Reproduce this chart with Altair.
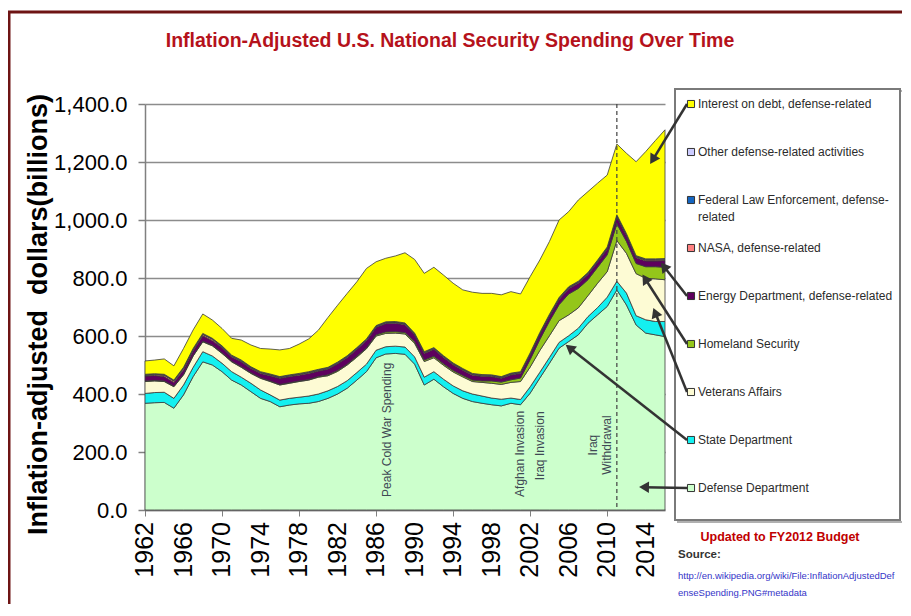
import math
import altair as alt
import pandas as pd

# ---------------- data (billions, inflation adjusted) ----------------
years = list(range(1962, 2017))
label_years = list(range(1962, 2015, 4))

defense_dept = [368, 370, 371, 351, 397, 460, 511, 500, 477, 448,
                431, 408, 385, 374, 356, 362, 366, 368, 374, 385,
                400, 420, 448, 477, 525, 538, 540, 537, 503, 431,
                451, 425, 402, 385, 374, 368, 363, 359, 368, 363,
                403, 455, 506, 558, 581, 604, 644, 673, 702, 759,
                707, 638, 610, 604, 598]
state_dept = [34, 35, 35, 34, 34, 32, 35, 31, 29, 29,
              27, 29, 29, 23, 23, 23, 23, 25, 26, 26,
              26, 26, 26, 26, 26, 25, 25, 25, 25, 27,
              26, 26, 26, 26, 26, 25, 23, 23, 18, 18,
              22, 20, 20, 20, 20, 23, 23, 25, 32, 30,
              41, 32, 46, 46, 52]
veterans = [41, 40, 37, 40, 35, 39, 34, 35, 34, 34,
            34, 34, 40, 46, 52, 52, 54, 55, 58, 52,
            52, 54, 53, 53, 49, 46, 45, 45, 47, 54,
            48, 48, 48, 48, 43, 47, 51, 51, 54, 62,
            68, 75, 75, 75, 72, 70, 72, 84, 88, 140,
            137, 145, 143, 147, 144]
homeland = [2, 2, 2, 2, 2, 2, 2, 2, 2, 2,
            2, 2, 2, 2, 2, 2, 2, 2, 2, 3,
            3, 3, 3, 3, 4, 5, 5, 5, 5, 5,
            5, 5, 5, 5, 5, 5, 8, 8, 9, 12,
            26, 38, 50, 55, 72, 67, 55, 55, 58, 58,
            41, 35, 40, 42, 43]
energy = [17, 17, 15, 13, 16, 16, 19, 16, 18, 15,
          17, 15, 15, 18, 21, 21, 20, 21, 19, 20,
          23, 23, 24, 25, 26, 29, 29, 27, 24, 23,
          24, 22, 20, 18, 17, 16, 15, 13, 17, 16,
          16, 17, 17, 18, 18, 18, 18, 18, 20, 24,
          20, 20, 20, 20, 23]
nasa = [3, 3, 5, 5, 5, 5, 5, 5, 3, 3,
        3, 3, 3, 3, 3, 3, 3, 3, 3, 3,
        3, 3, 3, 3, 3, 3, 3, 3, 3, 3,
        3, 3, 3, 3, 3, 3, 3, 3, 3, 3,
        3, 3, 3, 3, 3, 3, 3, 3, 3, 3,
        3, 3, 3, 3, 3]
fed_law = [1, 1, 1, 1, 1, 1, 1, 1, 1, 1,
           1, 1, 1, 1, 1, 1, 1, 1, 1, 1,
           1, 1, 1, 1, 1, 1, 1, 1, 1, 1,
           1, 1, 1, 1, 1, 1, 1, 1, 1, 1,
           2, 2, 2, 2, 2, 2, 2, 2, 2, 2,
           2, 2, 2, 2, 2]
other_defense = [2, 2, 2, 2, 2, 2, 2, 2, 2, 2,
                 2, 2, 2, 2, 2, 2, 2, 2, 2, 2,
                 2, 2, 2, 2, 2, 2, 2, 2, 2, 2,
                 2, 2, 2, 2, 2, 2, 2, 2, 2, 2,
                 2, 2, 2, 2, 2, 2, 2, 2, 2, 2,
                 2, 2, 2, 2, 2]
interest = [46, 47, 53, 49, 65, 64, 67, 63, 60, 58,
            69, 75, 80, 86, 92, 91, 101, 113, 135, 172,
            196, 215, 227, 243, 220, 219, 226, 242, 254, 270,
            277, 278, 275, 271, 280, 280, 281, 282, 281, 268,
            263, 250, 251, 267, 259, 280, 279, 265, 248, 244,
            277, 324, 370, 408, 444]

# stack order: bottom to top
series_names = ["Defense Department", "State Department", "Veterans Affairs",
                "Homeland Security", "Energy Department, defense-related",
                "NASA, defense-related", "Federal Law Enforcement, defense-related",
                "Other defense-related activities", "Interest on debt, defense-related"]
series_values = [defense_dept, state_dept, veterans, homeland, energy,
                 nasa, fed_law, other_defense, interest]
colors = ["#ccffcc", "#14f0f0", "#fdfbd4", "#94c61a", "#5e005e",
          "#ff8080", "#1565c0", "#ccccff", "#ffff00"]

# legend (top to bottom)
legend_series = series_names[::-1]
legend_labels = ["Interest on debt, defense-related", "Other defense-related activities",
                 "Federal Law Enforcement, defense-", "NASA, defense-related",
                 "Energy Department, defense-related", "Homeland Security",
                 "Veterans Affairs", "State Department", "Defense Department"]

# annotations
annotation_texts = ["Peak Cold War Spending", "Afghan Invasion", "Iraq Invasion"]
annotation_years = [1987.1, 2000.9, 2003.0]
annotation_values = [45, 45, 103]
withdrawal_texts = ["Iraq", "Withdrawal"]
withdrawal_years = [2008.5, 2010.0]
withdrawal_values = [224, 224]
withdrawal_line_year = [2011]

# arrows: legend row -> point on area (year, value)
arrow_rows = [0, 4, 5, 6, 7, 8]
arrow_tip_years = [2014.4, 2015.5, 2013.6, 2014.75, 2005.6, 2013.2]
arrow_tip_values = [1190, 856, 815, 700, 572, 79]

# ---------------- layout helpers ----------------
W, H = 520, 406
X0, X1 = 1962, 2016
Y0, Y1 = 0, 1400
ROW = 48


def year_px(y):
    return (y - X0) * W / (X1 - X0)


def val_px(v):
    return (Y1 - v) * H / (Y1 - Y0)


def px_year(px):
    return X0 + px * (X1 - X0) / W


def px_val(py):
    return Y1 - py * (Y1 - Y0) / H


FONT = "Liberation Sans"

rows = []
for k, (name, vals) in enumerate(zip(series_names, series_values)):
    for yr, v in zip(years, vals):
        rows.append({"year": yr, "value": v, "series": name, "order": k})
df = pd.DataFrame(rows)

color_scale = alt.Scale(domain=series_names, range=colors)
xscale = alt.Scale(domain=[X0, X1], nice=False, zero=False)
yscale = alt.Scale(domain=[Y0, Y1], nice=False)

x_axis = alt.Axis(values=years, labels=False, tickSize=6, tickColor="#808080", tickWidth=1,
                  domainColor="#808080", domainWidth=1.5, grid=False, title="")
y_axis = alt.Axis(values=list(range(0, 1401, 200)), format=",.1f",
                  labelFontSize=22, labelFont=FONT, labelColor="#000",
                  labelPadding=11, tickSize=7, tickColor="#808080", tickWidth=1.5,
                  domainColor="#808080", domainWidth=1.5,
                  grid=True, gridColor="#8c8c8c", gridWidth=1.5,
                  title="Inflation-adjusted\u00a0 dollars(billions)",
                  titleFont=FONT, titleFontSize=27, titleFontWeight="bold",
                  titleColor="#000", titleAngle=270, titleX=-107, titleY=210,
                  titleAlign="center", titleBaseline="middle")

area = alt.Chart(df).mark_area(stroke="#3a3a3a", strokeWidth=0.8, opacity=1).encode(
    x=alt.X("year:Q", scale=xscale, axis=x_axis),
    y=alt.Y("value:Q", stack="zero", scale=yscale, axis=y_axis),
    color=alt.Color("series:N", scale=color_scale, legend=None),
    order=alt.Order("order:Q", sort="ascending"),
)

# x tick labels (every 4 years), rotated to read bottom-to-top
xlab_df = pd.DataFrame({"year": label_years, "txt": [str(y) for y in label_years]})
x_labels = alt.Chart(xlab_df).mark_text(
    angle=270, align="right", baseline="middle", fontSize=25, font=FONT, color="#000"
).encode(x=alt.X("year:Q"), y=alt.value(H + 12), text="txt:N")

rule = alt.Chart(pd.DataFrame({"year": withdrawal_line_year})).mark_rule(
    color="#404040", strokeDash=[4, 3], strokeWidth=1.2
).encode(x=alt.X("year:Q"))

ann = alt.Chart(pd.DataFrame({"text": annotation_texts, "year": annotation_years,
                              "value": annotation_values})).mark_text(
    angle=270, align="left", baseline="middle", fontSize=12, font=FONT, color="#3f4954"
).encode(x=alt.X("year:Q"), y=alt.Y("value:Q"), text="text:N")

wd = alt.Chart(pd.DataFrame({"text": withdrawal_texts, "year": withdrawal_years,
                             "value": withdrawal_values})).mark_text(
    angle=270, align="center", baseline="middle", fontSize=12, font=FONT, color="#3f4954"
).encode(x=alt.X("year:Q"), y=alt.Y("value:Q"), text="text:N")

dummy = pd.DataFrame({"d": [0]})

# legend box (page x 675..900, y 89..520 -> plot coords)
box_shadow = alt.Chart(dummy).mark_rect(fill="white", stroke="#b0b0b0", strokeWidth=2).encode(
    x=alt.value(533), x2=alt.value(758), y=alt.value(-13), y2=alt.value(418))
box = alt.Chart(dummy).mark_rect(fill="white", stroke="#7a7a7a", strokeWidth=2).encode(
    x=alt.value(530), x2=alt.value(755), y=alt.value(-15), y2=alt.value(416))

# arrows
arr = []
for ty, tv, r in zip(arrow_tip_years, arrow_tip_values, arrow_rows):
    tx, tpy = year_px(ty), val_px(tv)
    sx, sy = 542.0, r * ROW
    dx, dy = tx - sx, tpy - sy
    L = math.hypot(dx, dy)
    ux, uy = dx / L, dy / L
    hx, hy = tx - ux * 6, tpy - uy * 6
    ang = math.degrees(math.atan2(ux, -uy)) % 360
    arr.append({"year": px_year(sx), "value": px_val(sy), "hx": px_year(hx),
                "hy": px_val(hy), "ang": ang})
arr_df = pd.DataFrame(arr)

arrow_lines = alt.Chart(arr_df).mark_rule(color="#333333", strokeWidth=2.5).encode(
    x=alt.X("year:Q"), y=alt.Y("value:Q"), x2="hx:Q", y2="hy:Q")
arrow_heads = alt.Chart(arr_df).mark_point(shape="triangle-up", filled=True, size=130,
                                           color="#333333", opacity=1).encode(
    x=alt.X("hx:Q", title=""), y=alt.Y("hy:Q", title=""),
    angle=alt.Angle("ang:Q", scale=alt.Scale(domain=[0, 360], range=[0, 360])))

leg_df = pd.DataFrame({"series": legend_series, "label": legend_labels,
                       "value": [px_val(i * ROW) for i in range(len(legend_series))]})
leg_sym = alt.Chart(leg_df).mark_square(size=50, filled=True, opacity=1, stroke="#333",
                                        strokeWidth=1).encode(
    x=alt.value(546), y=alt.Y("value:Q"),
    color=alt.Color("series:N", scale=color_scale, legend=None))
leg_txt = alt.Chart(leg_df).mark_text(align="left", baseline="middle", fontSize=12,
                                      font=FONT, color="#2b2b2b").encode(
    x=alt.value(553), y=alt.Y("value:Q"), text="label:N")
leg_extra = alt.Chart(dummy).mark_text(align="left", baseline="middle", fontSize=12,
                                       font=FONT, color="#2b2b2b", text="related").encode(
    x=alt.value(553), y=alt.value(2 * ROW + 17))

title = alt.Chart(dummy).mark_text(
    text="Inflation-Adjusted U.S. National Security Spending Over Time",
    align="center", baseline="middle", fontSize=19.5, fontWeight="bold", font=FONT,
    color="#b5121b").encode(x=alt.value(305), y=alt.value(-63))
updated = alt.Chart(dummy).mark_text(
    text="Updated to FY2012 Budget", align="center", baseline="middle", fontSize=12.5,
    fontWeight="bold", font=FONT, color="#c00000").encode(x=alt.value(635), y=alt.value(433))
source = alt.Chart(dummy).mark_text(
    text="Source:", align="left", baseline="middle", fontSize=11.5, fontWeight="bold",
    font=FONT, color="#333333").encode(x=alt.value(533), y=alt.value(451))
url1 = alt.Chart(dummy).mark_text(
    text="http://en.wikipedia.org/wiki/File:InflationAdjustedDef", align="left",
    baseline="middle", fontSize=9.5, font=FONT, color="#3535c8").encode(
    x=alt.value(533), y=alt.value(472))
url2 = alt.Chart(dummy).mark_text(
    text="enseSpending.PNG#metadata", align="left", baseline="middle", fontSize=9.5,
    font=FONT, color="#3535c8").encode(x=alt.value(533), y=alt.value(489))

frame_top = alt.Chart(dummy).mark_rule(color="#6e1414", strokeWidth=3).encode(
    x=alt.value(-137), x2=alt.value(760), y=alt.value(-92))
frame_left = alt.Chart(dummy).mark_rule(color="#6e1414", strokeWidth=3).encode(
    x=alt.value(-136), y=alt.value(-92), y2=alt.value(500))

chart = alt.layer(
    area, x_labels, rule, ann, wd, box_shadow, box, arrow_lines, arrow_heads, leg_sym,
    leg_txt, leg_extra, title, updated, source, url1, url2, frame_top, frame_left
).properties(
    width=W, height=H,
    autosize=alt.AutoSizeParams(type="none"),
    padding={"left": 137, "top": 96, "right": 237, "bottom": 94},
).configure_view(stroke=None)

chart.save("out.html", embed_options={"renderer": "svg", "actions": False})
